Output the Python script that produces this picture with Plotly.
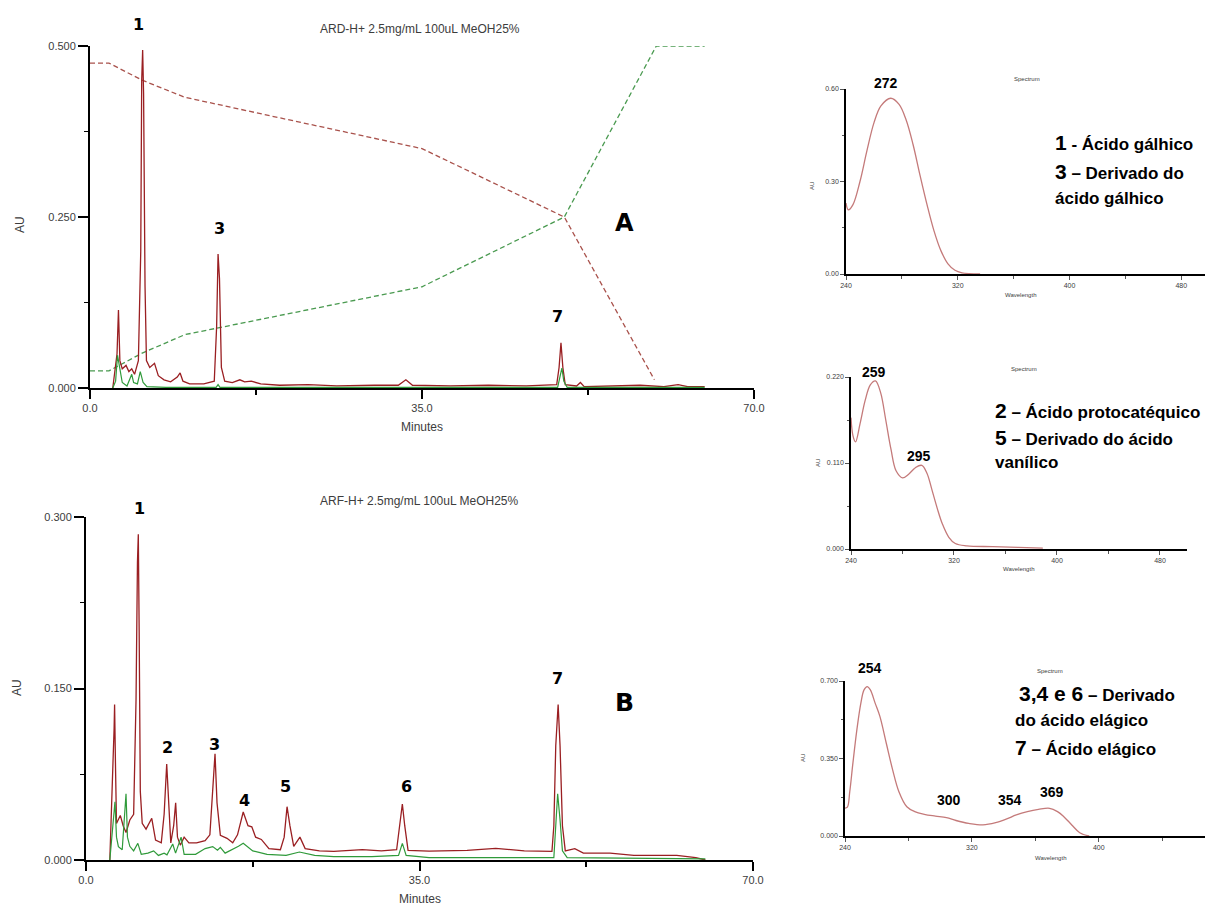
import plotly.graph_objects as go

W, H = 1205, 906

# ---------------- Chromatogram A : ARD-H+ ----------------
ard_red_t = [2.4, 2.6, 2.85, 3.0, 3.15, 3.4, 3.8, 4.1, 4.4, 4.7, 5.1, 5.35, 5.45, 5.55, 5.65, 5.8, 5.95,
             6.3, 6.8, 7.2, 7.8, 8.5, 9.2, 9.5, 9.8, 10.5, 12.0, 13.1, 13.35, 13.5, 13.65, 13.85, 14.2,
             15.0, 15.8, 16.3, 17.0, 18.0, 20.0, 23.0, 26.0, 30.0, 32.5, 33.3, 34.0, 38.0, 42.0, 46.0,
             49.2, 49.45, 49.65, 49.85, 50.1, 51.3, 51.7, 52.1, 55.0, 58.0, 60.5, 62.0, 63.0, 64.8]
ard_red_au = [0.0, 0.02, 0.05, 0.114, 0.04, 0.028, 0.033, 0.024, 0.028, 0.02, 0.04, 0.20, 0.45, 0.494, 0.43, 0.15, 0.04,
              0.03, 0.036, 0.018, 0.012, 0.009, 0.016, 0.022, 0.01, 0.006, 0.006, 0.01, 0.09, 0.196, 0.16, 0.03, 0.01,
              0.008, 0.012, 0.009, 0.01, 0.006, 0.004, 0.005, 0.003, 0.004, 0.004, 0.012, 0.004, 0.003, 0.004, 0.003,
              0.005, 0.03, 0.066, 0.03, 0.005, 0.003, 0.008, 0.002, 0.003, 0.004, 0.002, 0.005, 0.002, 0.002]

ard_green_t = [2.4, 2.7, 2.9, 3.1, 3.4, 3.9, 4.2, 4.4, 4.6, 5.0, 5.3, 5.6, 6.0, 8.0, 13.3, 13.5, 13.7,
               30.0, 49.3, 49.6, 49.75, 49.95, 50.3, 64.8]
ard_green_au = [0.0, 0.01, 0.048, 0.03, 0.008, 0.003, 0.012, 0.02, 0.008, 0.006, 0.024, 0.008, 0.002, 0.001, 0.001, 0.005, 0.001,
                0.001, 0.001, 0.02, 0.029, 0.01, 0.001, 0.001]

# gradient profile overlays (drawn on the AU scale of panel A)
grad_red_t = [0.0, 2.0, 5.5, 10.0, 35.0, 50.0, 59.5]
grad_red_au = [0.475, 0.475, 0.45, 0.425, 0.35, 0.25, 0.012]
grad_green_t = [0.0, 2.0, 5.5, 10.0, 35.0, 50.0, 59.7, 64.8]
grad_green_au = [0.025, 0.025, 0.051, 0.078, 0.148, 0.25, 0.5, 0.5]

# ---------------- Chromatogram B : ARF-H+ ----------------
arf_red_t = [2.5, 2.65, 2.85, 2.95, 3.0, 3.1, 3.2, 3.6, 3.9, 4.2, 4.6, 5.0, 5.25, 5.4, 5.49, 5.58, 5.7, 5.9,
             6.3, 6.9, 7.3, 7.9, 8.2, 8.47, 8.65, 8.9, 9.2, 9.41, 9.6, 9.9, 10.3, 10.8, 11.6, 12.5, 13.0,
             13.3, 13.54, 13.75, 14.1, 14.8, 15.4, 15.9, 16.5, 17.0, 17.4, 17.8, 18.4, 19.2, 20.4, 20.8,
             21.1, 21.4, 21.8, 22.45, 23.0, 24.5, 26.0, 29.0, 31.0, 32.6, 33.0, 33.2, 33.45, 33.8, 36.0,
             40.0, 43.0, 46.0, 48.9, 49.1, 49.3, 49.55, 49.75, 50.0, 50.3, 51.3, 52.2, 55.0, 57.5, 60.0,
             62.0, 64.0, 65.0]
arf_red_au = [0.0, 0.032, 0.09, 0.115, 0.136, 0.08, 0.032, 0.039, 0.03, 0.024, 0.035, 0.04, 0.14, 0.26, 0.285, 0.2, 0.06, 0.032,
              0.027, 0.0365, 0.0175, 0.015, 0.04, 0.084, 0.05, 0.015, 0.03, 0.05, 0.02, 0.013, 0.02, 0.015, 0.015, 0.017, 0.022,
              0.06, 0.093, 0.05, 0.0215, 0.019, 0.015, 0.022, 0.042, 0.03, 0.029, 0.02, 0.018, 0.01, 0.009, 0.02,
              0.0466, 0.03, 0.012, 0.02, 0.01, 0.008, 0.0075, 0.009, 0.008, 0.009, 0.035, 0.049, 0.03, 0.0085, 0.0078,
              0.0085, 0.0102, 0.008, 0.0075, 0.03, 0.1, 0.136, 0.1, 0.03, 0.008, 0.01, 0.006, 0.006, 0.004, 0.004,
              0.004, 0.002, 0.0]

arf_green_t = [2.5, 2.7, 2.95, 3.04, 3.2, 3.4, 3.8, 4.0, 4.2, 4.35, 4.6, 5.0, 5.44, 5.8, 6.5, 7.1, 7.6, 8.2,
               8.5, 9.1, 9.4, 9.98, 10.3, 11.5, 12.5, 13.3, 13.8, 14.1, 14.6, 16.0, 16.5, 17.5, 19.0, 21.0,
               22.4, 24.0, 26.0, 30.0, 32.8, 33.2, 33.6, 36.0, 49.1, 49.3, 49.5, 49.75, 50.0, 50.5, 65.0]
arf_green_au = [0.0, 0.02, 0.04, 0.051, 0.02, 0.0117, 0.009, 0.03, 0.058, 0.02, 0.012, 0.008, 0.0146, 0.005, 0.006, 0.008, 0.004, 0.006,
                0.0045, 0.014, 0.006, 0.02, 0.005, 0.005, 0.01, 0.0117, 0.0085, 0.011, 0.006, 0.012, 0.0146, 0.008, 0.005, 0.004,
                0.007, 0.004, 0.003, 0.003, 0.004, 0.0146, 0.004, 0.002, 0.002, 0.03, 0.058, 0.035, 0.008, 0.002, 0.001]

# ---------------- UV spectra ----------------
spec1_nm = [240, 241.7, 245, 250, 255, 260, 265, 272, 278, 283, 288, 293, 298, 303, 308, 313, 318, 323, 336]
spec1_au = [0.23, 0.208, 0.225, 0.30, 0.40, 0.49, 0.545, 0.57, 0.55, 0.50, 0.42, 0.32, 0.225, 0.14, 0.075, 0.033, 0.012, 0.004, 0.0]

spec2_nm = [240, 241.5, 243.5, 247, 251, 255, 259, 263, 267, 271, 275, 280, 285, 290, 295, 299, 303, 307,
            311, 316, 321, 330, 350, 370, 389]
spec2_au = [0.168, 0.145, 0.137, 0.16, 0.19, 0.21, 0.215, 0.2, 0.165, 0.128, 0.1, 0.091, 0.096, 0.104, 0.107, 0.097, 0.075, 0.052,
            0.032, 0.015, 0.007, 0.004, 0.003, 0.002, 0.001]

spec3_nm = [240, 241.5, 243, 245, 247.5, 250, 252, 254, 256, 259, 262, 266, 270, 274, 279, 284, 290, 297, 304,
            310, 318, 327, 335, 342, 348, 355, 362, 369, 374, 378, 383, 388, 394]
spec3_au = [0.126, 0.13, 0.2, 0.33, 0.48, 0.6, 0.66, 0.675, 0.66, 0.6, 0.54, 0.42, 0.3, 0.2, 0.132, 0.11, 0.098, 0.09, 0.083,
            0.07, 0.057, 0.05, 0.06, 0.077, 0.095, 0.11, 0.12, 0.125, 0.11, 0.087, 0.05, 0.015, 0.0]

# peak labels on the chromatograms: (text, time, AU)
ard_labels = [("3", 13.6, 0.2325), ("7", 49.33, 0.105)]
arf_labels = [("2", 8.6, 0.0988), ("3", 13.5, 0.1006), ("4", 16.6, 0.0519),
              ("5", 20.9, 0.0647), ("6", 33.65, 0.0641), ("7", 49.5, 0.159)]
# maxima labels on the spectra: (text, nm, AU)
spec2_labels = [("295", 292.8, 0.119)]
spec3_labels = [("300", 305.5, 0.1626), ("354", 343.9, 0.1626), ("369", 370.4, 0.199)]

RED = "#9a1f22"
GREEN = "#2f9a3a"
SPEC = "#c47a7a"
TXT = "#3c3c3c"
FONT = "Liberation Sans, Arial, sans-serif"
BOLD = "DejaVu Sans, sans-serif"
NARROW = "Liberation Sans Narrow, Liberation Sans, sans-serif"


def dom_x(a, b):
    return [a / W, min(b / W, 1.0)]


def dom_y(top, bottom):
    return [1 - bottom / H, 1 - top / H]


fig = go.Figure()

# Chromatogram traces
fig.add_trace(go.Scatter(x=grad_red_t, y=grad_red_au, mode="lines",
                         line=dict(color="#a9524c", width=1.3, dash="5px,3px"), xaxis="x", yaxis="y"))
fig.add_trace(go.Scatter(x=grad_green_t, y=grad_green_au, mode="lines",
                         line=dict(color="#4a9a50", width=1.3, dash="5px,3px"), xaxis="x", yaxis="y"))
fig.add_trace(go.Scatter(x=ard_red_t, y=ard_red_au, mode="lines",
                         line=dict(color=RED, width=1.3), xaxis="x", yaxis="y"))
fig.add_trace(go.Scatter(x=ard_green_t, y=ard_green_au, mode="lines",
                         line=dict(color=GREEN, width=1.2), xaxis="x", yaxis="y"))

fig.add_trace(go.Scatter(x=arf_red_t, y=arf_red_au, mode="lines",
                         line=dict(color=RED, width=1.3), xaxis="x2", yaxis="y2"))
fig.add_trace(go.Scatter(x=arf_green_t, y=arf_green_au, mode="lines",
                         line=dict(color=GREEN, width=1.2), xaxis="x2", yaxis="y2"))

# Spectra
fig.add_trace(go.Scatter(x=spec1_nm, y=spec1_au, mode="lines", line=dict(color=SPEC, width=1.3, shape="spline"),
                         xaxis="x3", yaxis="y3"))
fig.add_trace(go.Scatter(x=spec2_nm, y=spec2_au, mode="lines", line=dict(color=SPEC, width=1.3, shape="spline"),
                         xaxis="x4", yaxis="y4"))
fig.add_trace(go.Scatter(x=spec3_nm, y=spec3_au, mode="lines", line=dict(color=SPEC, width=1.3, shape="spline"),
                         xaxis="x5", yaxis="y5"))


def chrom_x(dom, anchor):
    return dict(domain=dom, anchor=anchor, range=[0, 70], tickvals=[0, 35, 70], ticktext=["0.0", "35.0", "70.0"],
                showline=True, linecolor="black", linewidth=2, ticks="outside", ticklen=9, tickwidth=1.5,
                tickcolor="black", showgrid=False, zeroline=False, automargin=False,
                minor=dict(tickvals=[17.5, 52.5], ticks="outside", ticklen=5, tickcolor="black", tickwidth=1.5),
                tickfont=dict(family=FONT, size=11, color=TXT))


def chrom_y(dom, anchor, top, step):
    vals = [0, step, 2 * step]
    return dict(domain=dom, anchor=anchor, range=[0, top], tickvals=vals, ticktext=[f"{v:.3f}" for v in vals],
                showline=True, linecolor="black", linewidth=2, ticks="outside", ticklen=10, tickwidth=1.5,
                tickcolor="black", showgrid=False, zeroline=False, automargin=False,
                minor=dict(tickvals=[step / 2, 1.5 * step], ticks="outside", ticklen=4, tickcolor="black",
                           tickwidth=1.2),
                tickfont=dict(family=FONT, size=11, color=TXT))


def spec_x(dom, anchor, rmax):
    return dict(domain=dom, anchor=anchor, range=[240, rmax], tickvals=[240, 320, 400, 480],
                ticktext=["240", "320", "400", "480"],
                showline=True, linecolor="black", linewidth=1.5, ticks="outside", ticklen=4, tickwidth=1,
                tickcolor="#555", showgrid=False, zeroline=False, automargin=False,
                minor=dict(tickvals=[280, 360, 440], ticks="outside", ticklen=3, tickcolor="#555", tickwidth=1),
                tickfont=dict(family=FONT, size=7, color=TXT))


def spec_y(dom, anchor, top, fmt):
    vals = [0, top / 2, top]
    return dict(domain=dom, anchor=anchor, range=[0, top], tickvals=vals, ticktext=[fmt.format(v) for v in vals],
                showline=True, linecolor="black", linewidth=1.5, ticks="outside", ticklen=4, tickwidth=1,
                tickcolor="#555", showgrid=False, zeroline=False, automargin=False,
                minor=dict(tickvals=[top / 4, 3 * top / 4], ticks="outside", ticklen=2, tickcolor="#555",
                           tickwidth=1),
                tickfont=dict(family=FONT, size=7, color=TXT))


annotations = []


def note(text, x, y, xref="paper", yref="paper", size=12, family=FONT, color=TXT, xanchor="center",
         yanchor="middle", angle=0):
    if xref == "paper":
        x = x / W
    if yref == "paper":
        y = 1 - y / H
    annotations.append(dict(text=text, x=x, y=y, xref=xref, yref=yref, showarrow=False, textangle=angle,
                            xanchor=xanchor, yanchor=yanchor, font=dict(family=family, size=size, color=color)))


# Chromatogram titles and axis titles
note("ARD-H+ 2.5mg/mL 100uL MeOH25%", 420, 29, size=12)
note("AU", 20, 225, size=12, angle=-90)
note("Minutes", 422, 427, size=12)
note("ARF-H+ 2.5mg/mL 100uL MeOH25%", 419, 501, size=12)
note("AU", 17, 688, size=12, angle=-90)
note("Minutes", 420, 899, size=12)

# peak numbers (the tallest ones sit above the axis range, so they use page position)
note("<b>1</b>", 138, 24, size=16, family=BOLD, color="black")
note("<b>1</b>", 139, 508, size=16, family=BOLD, color="black")
for t, x, y in ard_labels:
    note(f"<b>{t}</b>", x, y, xref="x", yref="y", size=16, family=BOLD, color="black")
for t, x, y in arf_labels:
    note(f"<b>{t}</b>", x, y, xref="x2", yref="y2", size=16, family=BOLD, color="black")
note("<b>A</b>", 56.4, 0.241, xref="x", yref="y", size=24, family=BOLD, color="black")
note("<b>B</b>", 56.56, 0.138, xref="x2", yref="y2", size=25, family=BOLD, color="black")

# Spectrum titles and axis titles
note("Spectrum", 1027, 79, size=6)
note("AU", 812, 186, size=6, angle=-90)
note("Wavelength", 1020, 295, size=6)
note("Spectrum", 1024, 369, size=6)
note("AU", 818, 463, size=6, angle=-90)
note("Wavelength", 1018, 569, size=6)
note("Spectrum", 1050, 671, size=6)
note("AU", 803, 758, size=6, angle=-90)
note("Wavelength", 1050, 858, size=6)

# absorption maxima
note("<b>272</b>", 886, 83, size=14, family=NARROW, color="black")
note("<b>259</b>", 874, 372, size=14, family=NARROW, color="black")
note("<b>254</b>", 870, 668, size=14, family=NARROW, color="black")
for t, x, y in spec2_labels:
    note(f"<b>{t}</b>", x, y, xref="x4", yref="y4", size=14, family=NARROW, color="black")
for t, x, y in spec3_labels:
    note(f"<b>{t}</b>", x, y, xref="x5", yref="y5", size=14, family=NARROW, color="black")


# Compound identification notes
def big(n):
    return f"<b><span style='font-size:21px'>{n}</span></b>"


note(big("1") + "<b> - Ácido gálhico</b>", 1053, 142, size=17, family=NARROW, color="black", xanchor="left")
note(big("3") + "<b> – Derivado do</b>", 1053, 172, size=17, family=NARROW, color="black", xanchor="left")
note("<b>ácido gálhico</b>", 1053, 198, size=17, family=NARROW, color="black", xanchor="left")

note(big("2") + "<b> – Ácido protocatéquico</b>", 993, 410, size=17, family=NARROW, color="black", xanchor="left")
note(big("5") + "<b> – Derivado do ácido</b>", 993, 437, size=17, family=NARROW, color="black", xanchor="left")
note("<b>vanílico</b>", 993, 463, size=17, family=NARROW, color="black", xanchor="left")

note(big("3,4 e 6") + "<b> – Derivado</b>", 1017, 693, size=17, family=NARROW, color="black", xanchor="left")
note("<b>do ácido elágico</b>", 1013, 720, size=17, family=NARROW, color="black", xanchor="left")
note(big("7") + "<b> – Ácido elágico</b>", 1013, 747, size=17, family=NARROW, color="black", xanchor="left")

fig.update_layout(
    width=W, height=H, margin=dict(l=0, r=0, t=0, b=0, autoexpand=False),
    paper_bgcolor="white", plot_bgcolor="white", showlegend=False,
    xaxis=chrom_x(dom_x(90, 754), "y"),
    yaxis=chrom_y(dom_y(46, 388), "x", 0.5, 0.25),
    xaxis2=chrom_x(dom_x(86, 753), "y2"),
    yaxis2=chrom_y(dom_y(517, 860), "x2", 0.3, 0.15),
    xaxis3=spec_x(dom_x(846, 1205), "y3", 497),
    yaxis3=spec_y(dom_y(89, 274), "x3", 0.6, "{:.2f}"),
    xaxis4=spec_x(dom_x(851, 1187), "y4", 501),
    yaxis4=spec_y(dom_y(377, 549), "x4", 0.22, "{:.3f}"),
    xaxis5=spec_x(dom_x(845, 1205), "y5", 467),
    yaxis5=spec_y(dom_y(681, 836), "x5", 0.7, "{:.3f}"),
    annotations=annotations,
)

fig.write_html("out.html")
